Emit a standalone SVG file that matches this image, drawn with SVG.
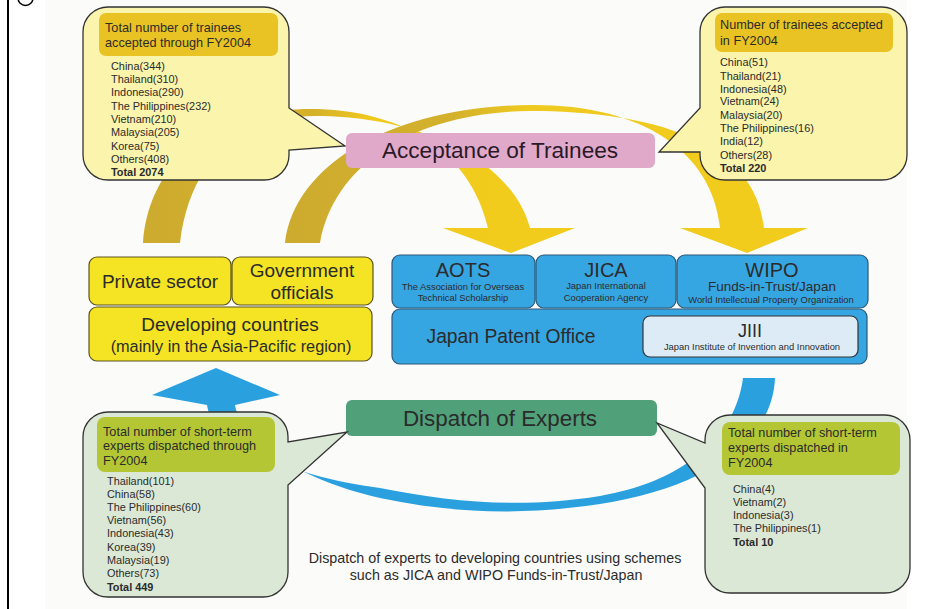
<svg xmlns="http://www.w3.org/2000/svg" width="952" height="609" viewBox="0 0 952 609">
<style>
text{font-family:"Liberation Sans",Arial,sans-serif;fill:#2b2b2b}
.callY{fill:#faf4ac;stroke:#333;stroke-width:1.3}
.callG{fill:#dbe8d6;stroke:#333;stroke-width:1.3}
.hdY{fill:#e9c323}
.hdG{fill:#b4c634}
.hd{font-size:12.7px}
.li{font-size:10.9px}
.yb{fill:#f4e423;stroke:#5a5420;stroke-width:1.2}
.bb{fill:#36a6e2;stroke:#2c5878;stroke-width:1.2}
.big{font-size:19px}
.sm{font-size:9.4px}
</style>
<defs>
<linearGradient id="gA" gradientUnits="userSpaceOnUse" x1="150" y1="0" x2="520" y2="0">
<stop offset="0" stop-color="#cdab2e"/><stop offset="0.45" stop-color="#d6b22a"/><stop offset="0.6" stop-color="#f0c91e"/><stop offset="1" stop-color="#f2cc1c"/>
</linearGradient>
<linearGradient id="gB" gradientUnits="userSpaceOnUse" x1="290" y1="0" x2="760" y2="0">
<stop offset="0" stop-color="#cdab2e"/><stop offset="0.35" stop-color="#d4b12c"/><stop offset="0.5" stop-color="#eec920"/><stop offset="1" stop-color="#f2cc1c"/>
</linearGradient>
</defs>
<rect x="0" y="0" width="952" height="609" fill="#ffffff"/>
<rect x="45" y="0" width="862" height="609" fill="#fbfbfa"/>
<line x1="8" y1="0" x2="8" y2="609" stroke="#000" stroke-width="2"/>
<circle cx="25.5" cy="-2" r="7.5" fill="#fff" stroke="#000" stroke-width="1.5"/>

<g id="connectors">
<path id="arc-trainees-aots" fill="url(#gA)" d="M143,243 C150,150 230,109 310,109 C400,109 470,150 488,228 L443,228 L511,253 L575,228 L530,228 C512,160 420,116 315,116 C240,117 190,160 180,243 Z"/>
<path id="arc-trainees-wipo" fill="url(#gB)" d="M285,243 C295,160 400,106 530,105 C640,104 712,150 720,228 L680,228 L747,253 L808,228 L764,228 C755,140 650,111 530,111 C420,112 335,160 320,243 Z"/>
<path id="arc-experts" fill="#2aa1de" d="M775,378 C772,450 690,490 600,504 C520,516 450,513 380,498 C300,480 240,440 235,405 L280,395 L216,368 L152,395 L207,405 C212,445 300,478 380,488 C450,502 520,509 600,496 C680,482 735,440 743,378 Z"/>
</g>

<g id="callout-trainees-total">
<path class="callY" d="M108,7 H264 A25,25 0 0 1 289,32 V108 L345,146 L289,150 V155 A25,25 0 0 1 264,180 H108 A25,25 0 0 1 83,155 V32 A25,25 0 0 1 108,7 Z"/>
<rect class="hdY" x="99" y="13" width="179" height="43" rx="7"/>
<text class="hd" x="105" y="32">Total number of trainees</text>
<text class="hd" x="105" y="47">accepted through FY2004</text>
<text class="li" x="111" y="70">China(344)</text>
<text class="li" x="111" y="83">Thailand(310)</text>
<text class="li" x="111" y="96">Indonesia(290)</text>
<text class="li" x="111" y="110">The Philippines(232)</text>
<text class="li" x="111" y="123">Vietnam(210)</text>
<text class="li" x="111" y="136">Malaysia(205)</text>
<text class="li" x="111" y="150">Korea(75)</text>
<text class="li" x="111" y="163">Others(408)</text>
<text class="li" x="111" y="176" font-weight="bold">Total 2074</text>
</g>

<g id="callout-trainees-fy2004">
<path class="callY" d="M725,7 H882 A25,25 0 0 1 907,32 V155 A25,25 0 0 1 882,180 H725 A25,25 0 0 1 700,155 V152 L659,152 L700,108 V32 A25,25 0 0 1 725,7 Z"/>
<rect class="hdY" x="715" y="13" width="178" height="39" rx="7"/>
<text class="hd" x="720" y="29">Number of trainees accepted</text>
<text class="hd" x="720" y="45">in FY2004</text>
<text class="li" x="720" y="66">China(51)</text>
<text class="li" x="720" y="80">Thailand(21)</text>
<text class="li" x="720" y="93">Indonesia(48)</text>
<text class="li" x="720" y="105">Vietnam(24)</text>
<text class="li" x="720" y="119">Malaysia(20)</text>
<text class="li" x="720" y="132">The Philippines(16)</text>
<text class="li" x="720" y="145">India(12)</text>
<text class="li" x="720" y="159">Others(28)</text>
<text class="li" x="720" y="172" font-weight="bold">Total 220</text>
</g>

<g id="acceptance">
<rect x="346" y="133" width="309" height="35" rx="6" fill="#e0a9ca"/>
<text x="500" y="158" font-size="22.6" text-anchor="middle" style="fill:#2a1a28">Acceptance of Trainees</text>
</g>

<g id="private-sector">
<rect class="yb" x="89" y="257" width="142" height="48" rx="8"/>
<text class="big" x="160" y="288" text-anchor="middle">Private sector</text>
</g>
<g id="government-officials">
<rect class="yb" x="232" y="257" width="141" height="48" rx="8"/>
<text class="big" x="302" y="277" text-anchor="middle">Government</text>
<text class="big" x="302" y="299" text-anchor="middle">officials</text>
</g>
<g id="developing-countries">
<rect class="yb" x="89" y="307" width="283" height="54" rx="8"/>
<text class="big" x="230" y="331" text-anchor="middle">Developing countries</text>
<text x="231" y="352" font-size="16.3" text-anchor="middle">(mainly in the Asia-Pacific region)</text>
</g>

<g id="jpo">
<rect class="bb" x="392" y="309" width="475" height="55" rx="8"/>
<text x="511" y="343" font-size="19.3" text-anchor="middle">Japan Patent Office</text>
</g>
<g id="aots">
<rect class="bb" x="392" y="255" width="143" height="53" rx="8"/>
<text x="463" y="277" font-size="20" text-anchor="middle">AOTS</text>
<text class="sm" x="463" y="290" text-anchor="middle">The Association for Overseas</text>
<text class="sm" x="463" y="301" text-anchor="middle">Technical Scholarship</text>
</g>
<g id="jica">
<rect class="bb" x="536" y="255" width="140" height="53" rx="8"/>
<text x="606" y="277" font-size="20" text-anchor="middle">JICA</text>
<text class="sm" x="606" y="289" text-anchor="middle">Japan International</text>
<text class="sm" x="606" y="301" text-anchor="middle">Cooperation Agency</text>
</g>
<g id="wipo">
<rect class="bb" x="677" y="255" width="191" height="53" rx="8"/>
<text x="772" y="277" font-size="20" text-anchor="middle">WIPO</text>
<text x="772" y="291" font-size="13.5" text-anchor="middle">Funds-in-Trust/Japan</text>
<text class="sm" x="771" y="303" text-anchor="middle">World Intellectual Property Organization</text>
</g>
<g id="jiii">
<rect x="643" y="316" width="215" height="41" rx="7" fill="#dcebf6" stroke="#333" stroke-width="1.2"/>
<text x="750" y="337" font-size="18" text-anchor="middle">JIII</text>
<text class="sm" x="752" y="350" text-anchor="middle">Japan Institute of Invention and Innovation</text>
</g>

<g id="dispatch">
<rect x="346" y="400" width="311" height="36" rx="6" fill="#50a17a"/>
<text x="500" y="426" font-size="22.4" text-anchor="middle">Dispatch of Experts</text>
</g>

<g id="callout-experts-total">
<path class="callG" d="M108,412 H263 A25,25 0 0 1 288,437 V442 L347,432 L288,485 V572 A25,25 0 0 1 263,597 H108 A25,25 0 0 1 83,572 V437 A25,25 0 0 1 108,412 Z"/>
<rect class="hdG" x="97" y="417" width="178" height="55" rx="8"/>
<text class="hd" x="103" y="436">Total number of short-term</text>
<text class="hd" x="103" y="450">experts dispatched through</text>
<text class="hd" x="103" y="465">FY2004</text>
<text class="li" x="107" y="485">Thailand(101)</text>
<text class="li" x="107" y="498">China(58)</text>
<text class="li" x="107" y="511">The Philippines(60)</text>
<text class="li" x="107" y="524">Vietnam(56)</text>
<text class="li" x="107" y="537">Indonesia(43)</text>
<text class="li" x="107" y="551">Korea(39)</text>
<text class="li" x="107" y="564">Malaysia(19)</text>
<text class="li" x="107" y="577">Others(73)</text>
<text class="li" x="107" y="591" font-weight="bold">Total 449</text>
</g>

<g id="callout-experts-fy2004">
<path class="callG" d="M730,415 H885 A25,25 0 0 1 910,440 V568 A25,25 0 0 1 885,593 H730 A25,25 0 0 1 705,568 V488 L657,423 L705,443 V440 A25,25 0 0 1 730,415 Z"/>
<rect class="hdG" x="722" y="422" width="178" height="53" rx="8"/>
<text class="hd" x="728" y="437">Total number of short-term</text>
<text class="hd" x="728" y="452">experts dispatched in</text>
<text class="hd" x="728" y="467">FY2004</text>
<text class="li" x="733" y="493">China(4)</text>
<text class="li" x="733" y="506">Vietnam(2)</text>
<text class="li" x="733" y="519">Indonesia(3)</text>
<text class="li" x="733" y="532">The Philippines(1)</text>
<text class="li" x="733" y="546" font-weight="bold">Total 10</text>
</g>

<g id="caption">
<text x="495" y="563" font-size="14.3" text-anchor="middle">Dispatch of experts to developing countries using schemes</text>
<text x="496" y="580" font-size="14.3" text-anchor="middle">such as JICA and WIPO Funds-in-Trust/Japan</text>
</g>
</svg>
